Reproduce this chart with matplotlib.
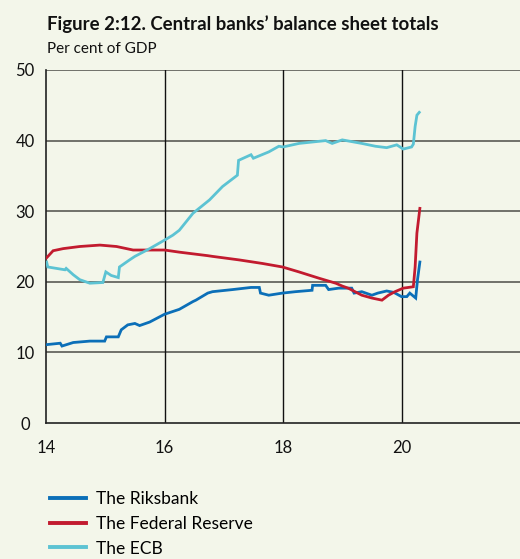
import matplotlib
matplotlib.use("Agg")
import matplotlib.pyplot as plt
from matplotlib.lines import Line2D

# ---- data ----
riks_x = [14.01, 14.24, 14.27, 14.46, 14.74, 14.99, 15.02, 15.22, 15.27, 15.38, 15.50, 15.58,
          15.75, 16.00, 16.25, 16.48, 16.53, 16.73, 16.81, 17.15, 17.46, 17.60, 17.62, 17.76,
          17.99, 18.21, 18.49, 18.50, 18.72, 18.77, 18.94, 19.16, 19.20, 19.33, 19.50, 19.60,
          19.75, 19.87, 20.00, 20.09, 20.14, 20.24, 20.27, 20.31]
riks_y = [11.1, 11.3, 10.9, 11.4, 11.6, 11.6, 12.2, 12.2, 13.2, 13.9, 14.1, 13.8,
          14.3, 15.4, 16.1, 17.2, 17.4, 18.4, 18.6, 18.9, 19.2, 19.2, 18.4, 18.1,
          18.4, 18.6, 18.8, 19.5, 19.5, 18.9, 19.1, 19.1, 18.4, 18.6, 18.1, 18.4,
          18.7, 18.5, 17.9, 17.9, 18.4, 17.7, 20.3, 22.8]

fed_x = [14.01, 14.12, 14.29, 14.57, 14.91, 15.19, 15.47, 15.80, 16.00, 16.25, 16.73, 16.81,
         17.26, 17.65, 17.99, 18.27, 18.61, 18.89, 19.00, 19.10, 19.33, 19.50, 19.67, 19.78,
         19.89, 20.03, 20.20, 20.23, 20.26, 20.31]
fed_y = [23.4, 24.4, 24.7, 25.0, 25.2, 25.0, 24.5, 24.5, 24.5, 24.2, 23.7, 23.6,
         23.1, 22.6, 22.1, 21.4, 20.5, 19.8, 19.4, 19.1, 18.1, 17.7, 17.4, 18.1,
         18.6, 19.1, 19.3, 22.1, 26.9, 30.4]

ecb_x = [14.01, 14.03, 14.32, 14.34, 14.46, 14.57, 14.74, 14.96, 15.01, 15.10, 15.22, 15.24,
         15.41, 15.50, 15.75, 16.00, 16.14, 16.25, 16.48, 16.76, 16.98, 17.23, 17.25, 17.46,
         17.50, 17.76, 17.93, 18.00, 18.27, 18.72, 18.83, 19.00, 19.33, 19.56, 19.75, 19.92,
         20.03, 20.17, 20.20, 20.23, 20.26, 20.30]
ecb_y = [22.8, 22.1, 21.7, 21.9, 21.0, 20.3, 19.8, 19.9, 21.4, 20.9, 20.6, 22.1,
         23.1, 23.6, 24.7, 25.9, 26.6, 27.3, 29.7, 31.6, 33.5, 35.1, 37.2, 38.0,
         37.5, 38.4, 39.2, 39.1, 39.6, 40.0, 39.6, 40.1, 39.6, 39.2, 39.0, 39.4,
         38.8, 39.1, 39.5, 42.0, 43.6, 44.0]

series_labels = ["The Riksbank", "The Federal Reserve", "The ECB"]
series_colors = ["#0b6fb8", "#c21b2f", "#5cc3d3"]

x_ticks = [14, 16, 18, 20]
x_ticklabels = ["14", "16", "18", "20"]
y_ticks = [0, 10, 20, 30, 40, 50]

title = "Figure 2:12. Central banks\u2019 balance sheet totals"
subtitle = "Per cent of GDP"

# ---- figure ----
BG = "#f3f6ea"
plt.rcParams["font.family"] = ["Lato", "DejaVu Sans"]
fig = plt.figure(figsize=(5.2, 5.59), dpi=100, facecolor=BG)
ax = fig.add_axes([46/520, 1 - 423/559, 1 - 46/520, (423 - 70)/559])
ax.set_facecolor(BG)

for xs, ys, c in zip([riks_x, fed_x, ecb_x], [riks_y, fed_y, ecb_y], series_colors):
    ax.plot(xs, ys, color=c, lw=2.0, solid_joinstyle="miter", zorder=3)

ax.set_xlim(14, 22)
ax.set_ylim(0, 50)
ax.set_xticks(x_ticks)
ax.set_xticklabels(x_ticklabels)
ax.set_yticks(y_ticks)

for v in y_ticks[1:]:
    ax.axhline(v, color="#5a5a55", lw=1.2, zorder=1)
for v in x_ticks[1:]:
    ax.axvline(v, color="#111111", lw=1.0, zorder=1)

for s in ["top", "right"]:
    ax.spines[s].set_visible(False)
for s in ["left", "bottom"]:
    ax.spines[s].set_color("#222222")
    ax.spines[s].set_linewidth(1.2)

ax.tick_params(axis="both", length=0, labelsize=12, colors="#111111")
ax.tick_params(axis="x", pad=12)
ax.tick_params(axis="y", pad=15)
for lab in ax.get_yticklabels():
    lab.set_horizontalalignment("center")

fig.text(47/520, 1 - 30/559, title, fontsize=13.4, fontweight="bold", color="#111111",
         va="baseline", ha="left")
fig.text(47/520, 1 - 53/559, subtitle, fontsize=11, color="#111111",
         va="baseline", ha="left")

handles = [Line2D([0], [0], color=c, lw=2.8) for c in series_colors]
fig.legend(handles, series_labels, loc="upper left", bbox_to_anchor=(38/520, 1 - 479/559),
           frameon=False, fontsize=12.5, handlelength=2.05, handletextpad=0.6,
           labelspacing=0.5, borderpad=0.2)

fig.savefig("out.png", dpi=100, facecolor=BG)
